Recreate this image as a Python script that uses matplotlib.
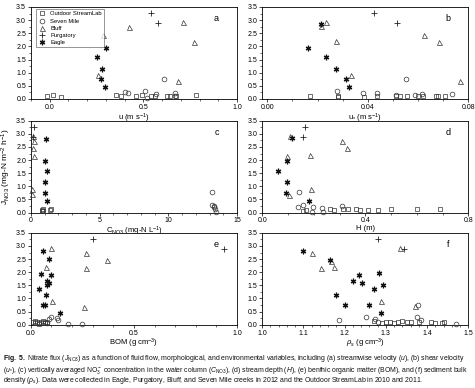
import matplotlib
matplotlib.use("Agg")
import matplotlib.pyplot as plt
from matplotlib.ticker import MultipleLocator, FormatStrFormatter

plt.rcParams['font.family'] = ['Liberation Sans', 'DejaVu Sans']
plt.rcParams['mathtext.fontset'] = 'custom'
plt.rcParams['mathtext.rm'] = 'Liberation Sans'
plt.rcParams['mathtext.it'] = 'Liberation Sans:italic'
plt.rcParams['mathtext.bf'] = 'Liberation Sans:bold'

series_names = ["Outdoor StreamLab", "Seven Mile", "Bluff", "Purgatory", "Eagle"]

# ---- panel a: streamwise velocity u ----
a_osl_x = [-0.012, 0.018, 0.06, 0.355, 0.38, 0.46, 0.495, 0.54, 0.56, 0.627, 0.64, 0.673, 0.78]
a_osl_y = [0.10, 0.15, 0.08, 0.15, 0.13, 0.10, 0.14, 0.10, 0.13, 0.10, 0.12, 0.13, 0.15]
a_sm_x = [0.40, 0.42, 0.51, 0.52, 0.57, 0.61, 0.67, 0.67]
a_sm_y = [0.27, 0.23, 0.31, 0.04, 0.18, 0.77, 0.22, 0.13]
a_bl_x = [0.26, 0.284, 0.424, 0.712, 0.685, 0.77]
a_bl_y = [0.90, 2.45, 2.72, 2.92, 0.70, 2.15]
a_pu_x = [0.54, 0.58]
a_pu_y = [3.27, 2.88]
a_ea_x = [0.254, 0.279, 0.275, 0.302, 0.293]
a_ea_y = [1.60, 1.15, 0.75, 1.95, 0.45]

# ---- panel b: shear velocity u* ----
b_osl_x = [0.017, 0.028, 0.028, 0.0386, 0.0437, 0.0513, 0.053, 0.0555, 0.060, 0.062, 0.067, 0.068, 0.0707]
b_osl_y = [0.10, 0.12, 0.06, 0.08, 0.10, 0.10, 0.12, 0.10, 0.12, 0.12, 0.12, 0.10, 0.10]
b_sm_x = [0.0276, 0.038, 0.0437, 0.0513, 0.0553, 0.0586, 0.0616, 0.0734]
b_sm_y = [0.30, 0.22, 0.22, 0.14, 0.77, 0.16, 0.20, 0.18]
b_bl_x = [0.0233, 0.0273, 0.0334, 0.0623, 0.0682, 0.0767, 0.0212]
b_bl_y = [2.92, 2.20, 0.90, 2.45, 2.15, 0.70, 2.77]
b_pu_x = [0.0426, 0.0518]
b_pu_y = [3.27, 2.88]
b_ea_x = [0.0214, 0.0161, 0.0233, 0.0273, 0.0315, 0.0325]
b_ea_y = [2.85, 1.95, 1.60, 1.15, 0.75, 0.45]

# ---- panel c: NO3 concentration ----
c_osl_x = [0.80, 0.85, 0.90, 0.82, 1.40, 1.45]
c_osl_y = [0.10, 0.14, 0.08, 0.05, 0.10, 0.12]
c_sm_x = [13.2, 13.2, 13.3, 13.3, 13.4, 13.5]
c_sm_y = [0.77, 0.30, 0.25, 0.20, 0.12, 0.04]
c_bl_x = [0.15, 0.20, 0.15, 0.20, 0.10, 0.10]
c_bl_y = [2.92, 2.72, 2.45, 2.15, 0.90, 0.70]
c_pu_x = [0.20, 0.15]
c_pu_y = [3.27, 2.88]
c_ea_x = [1.10, 1.05, 1.15, 1.03, 1.06, 1.18]
c_ea_y = [2.82, 1.95, 1.60, 1.15, 0.75, 0.45]

# ---- panel d: stream depth H ----
d_osl_x = [0.157, 0.17, 0.262, 0.279, 0.315, 0.334, 0.365, 0.378, 0.41, 0.449, 0.50, 0.60, 0.69]
d_osl_y = [0.08, 0.10, 0.14, 0.10, 0.12, 0.14, 0.12, 0.10, 0.10, 0.10, 0.14, 0.12, 0.14]
d_sm_x = [0.144, 0.138, 0.157, 0.197, 0.233, 0.194, 0.236, 0.308]
d_sm_y = [0.77, 0.20, 0.30, 0.22, 0.17, 0.02, 0.04, 0.27]
d_bl_x = [0.109, 0.098, 0.184, 0.308, 0.328, 0.19, 0.105]
d_bl_y = [2.92, 2.15, 2.20, 2.72, 2.45, 0.90, 0.68]
d_pu_x = [0.168, 0.157]
d_pu_y = [3.27, 2.88]
d_ea_x = [0.114, 0.098, 0.063, 0.098, 0.092, 0.181]
d_ea_y = [2.85, 1.97, 1.60, 1.15, 0.75, 0.45]

# ---- panel e: BOM ----
e_osl_x = [0.01, 0.02, 0.03, 0.04, 0.05, 0.06, 0.07, 0.02, 0.04, 0.06, 0.08]
e_osl_y = [0.10, 0.06, 0.12, 0.08, 0.10, 0.14, 0.08, 0.14, 0.04, 0.06, 0.10]
e_sm_x = [0.07, 0.09, 0.10, 0.125, 0.13, 0.08, 0.18, 0.25]
e_sm_y = [0.12, 0.22, 0.30, 0.25, 0.18, 0.05, 0.02, 0.02]
e_bl_x = [0.098, 0.268, 0.369, 0.073, 0.268, 0.104, 0.26]
e_bl_y = [2.92, 2.72, 2.45, 2.20, 2.15, 0.90, 0.68]
e_pu_x = [0.30, 0.935]
e_pu_y = [3.27, 2.88]
e_ea_x = [0.06, 0.09, 0.05, 0.10, 0.08, 0.09, 0.08, 0.04, 0.075, 0.06, 0.07, 0.14]
e_ea_y = [2.82, 2.49, 1.95, 1.90, 1.67, 1.60, 1.53, 1.35, 1.15, 0.75, 0.75, 0.43]

# ---- panel f: sediment bulk density ----
f_osl_x = [1.27, 1.29, 1.30, 1.31, 1.32, 1.33, 1.34, 1.35, 1.36, 1.38, 1.41, 1.42, 1.435, 1.44]
f_osl_y = [0.15, 0.05, 0.10, 0.12, 0.08, 0.12, 0.14, 0.10, 0.12, 0.10, 0.12, 0.06, 0.08, 0.10]
f_sm_x = [1.187, 1.252, 1.274, 1.28, 1.376, 1.378, 1.385, 1.47]
f_sm_y = [0.18, 0.30, 0.22, 0.10, 0.28, 0.77, 0.19, 0.02]
f_bl_x = [1.12, 1.142, 1.166, 1.175, 1.287, 1.37, 1.335]
f_bl_y = [2.72, 2.17, 2.42, 2.20, 0.92, 0.70, 2.92]
f_pu_x = [1.28, 1.345]
f_pu_y = [3.27, 2.88]
f_ea_x = [1.10, 1.165, 1.178, 1.20, 1.22, 1.235, 1.243, 1.26, 1.27, 1.283, 1.293, 1.287]
f_ea_y = [2.82, 2.47, 1.15, 0.77, 1.67, 1.90, 1.60, 0.75, 1.37, 1.97, 1.53, 0.43]

panels = [
    ("a", [(a_osl_x, a_osl_y), (a_sm_x, a_sm_y), (a_bl_x, a_bl_y), (a_pu_x, a_pu_y), (a_ea_x, a_ea_y)],
     (-0.1, 1.0), [0.0, 0.5, 1.0], "%.1f", r"u (m s$^{-1}$)"),
    ("b", [(b_osl_x, b_osl_y), (b_sm_x, b_sm_y), (b_bl_x, b_bl_y), (b_pu_x, b_pu_y), (b_ea_x, b_ea_y)],
     (-0.002, 0.08), [0.0, 0.04, 0.08], "%.2f", r"u$_{*}$ (m s$^{-1}$)"),
    ("c", [(c_osl_x, c_osl_y), (c_sm_x, c_sm_y), (c_bl_x, c_bl_y), (c_pu_x, c_pu_y), (c_ea_x, c_ea_y)],
     (0, 15), [0, 5, 10, 15], "%d", r"C$_{\mathregular{NO3}}$ (mg-N L$^{-1}$)"),
    ("d", [(d_osl_x, d_osl_y), (d_sm_x, d_sm_y), (d_bl_x, d_bl_y), (d_pu_x, d_pu_y), (d_ea_x, d_ea_y)],
     (0, 0.8), [0.0, 0.4, 0.8], "%.1f", "H (m)"),
    ("e", [(e_osl_x, e_osl_y), (e_sm_x, e_sm_y), (e_bl_x, e_bl_y), (e_pu_x, e_pu_y), (e_ea_x, e_ea_y)],
     (0, 1.0), [0.0, 0.5, 1.0], "%.1f", r"BOM (g cm$^{-3}$)"),
    ("f", [(f_osl_x, f_osl_y), (f_sm_x, f_sm_y), (f_bl_x, f_bl_y), (f_pu_x, f_pu_y), (f_ea_x, f_ea_y)],
     (1.0, 1.5), [1.0, 1.1, 1.2, 1.3, 1.4, 1.5], "%.1f", r"$\rho_s$ (g cm$^{-3}$)"),
]

marker_styles = [
    dict(marker='s', ms=3.2, mfc='none', mec='#333333', mew=0.5),
    dict(marker='o', ms=3.4, mfc='none', mec='#333333', mew=0.5),
    dict(marker='^', ms=3.6, mfc='none', mec='#333333', mew=0.5),
    dict(marker='+', ms=4.0, mfc='none', mec='#222222', mew=0.6),
    dict(marker=(6, 2, 0), ms=4.0, mfc='none', mec='#111111', mew=0.9),
]

fig = plt.figure(figsize=(4.75, 3.88), dpi=100)
lefts = [0.065, 0.552]
bottoms = [0.745, 0.452, 0.163]
W, H = 0.434, 0.237

axes = []
for i, (lab, data, xlim, xt, fmt, xlabel) in enumerate(panels):
    r, c = divmod(i, 2)
    ax = fig.add_axes([lefts[c], bottoms[r], W, H])
    axes.append(ax)
    for (xs, ys), st, name in zip(data, marker_styles, series_names):
        ax.plot(xs, ys, linestyle='none', label=name, clip_on=False, zorder=3, **st)
    ax.set_xlim(*xlim)
    ax.set_ylim(0, 3.5)
    ax.set_xticks(xt)
    ax.xaxis.set_major_formatter(FormatStrFormatter(fmt))
    ax.yaxis.set_major_locator(MultipleLocator(0.5))
    ax.yaxis.set_major_formatter(FormatStrFormatter("%.1f"))
    ax.tick_params(direction='out', length=2, width=0.5, labelsize=5, pad=1.5)
    ax.minorticks_on()
    ax.tick_params(which='minor', direction='out', length=1.2, width=0.4)
    ax.yaxis.set_minor_locator(MultipleLocator(0.25))
    for s in ax.spines.values():
        s.set_linewidth(0.6)
    ax.set_xlabel(xlabel, fontsize=5.5, labelpad=0.3)
    ax.text(0.9, 0.87, lab, transform=ax.transAxes, fontsize=6.5, ha='center', va='center')

axes[2].set_ylabel(r"J$_{\mathregular{NO3}}$ (mg-N m$^{-2}$ h$^{-1}$)", fontsize=6, labelpad=2)

leg = axes[0].legend(loc='upper left', bbox_to_anchor=(0.02, 0.99), fontsize=4.2, frameon=True,
                     fancybox=False, edgecolor='#444444', handlelength=1.2, handletextpad=0.8,
                     borderpad=0.4, labelspacing=0.35, borderaxespad=0.2)
leg.get_frame().set_linewidth(0.5)

cap_lines = [
    r"$\mathbf{Fig.\ 5.}$ Nitrate flux ($J_{\mathregular{NO3}}$) as a function of fluid flow, morphological, and environmental variables, including (a) streamwise velocity ($u$), (b) shear velocity",
    r"($u_{*}$), (c) vertically averaged NO$_3^-$ concentration in the water column ($C_{\mathregular{NO3}}$), (d) stream depth ($H$), (e) benthic organic matter (BOM), and (f) sediment bulk",
    r"density ($\rho_s$). Data were collected in Eagle, Purgatory, Bluff, and Seven Mile creeks in 2012 and the Outdoor StreamLab in 2010 and 2011.",
]
for k, line in enumerate(cap_lines):
    fig.text(0.006, 1 - (359 + 11 * k) / 388, line, fontsize=4.95, ha='left', va='center', color='#111111')

fig.savefig("out.png", dpi=100)
